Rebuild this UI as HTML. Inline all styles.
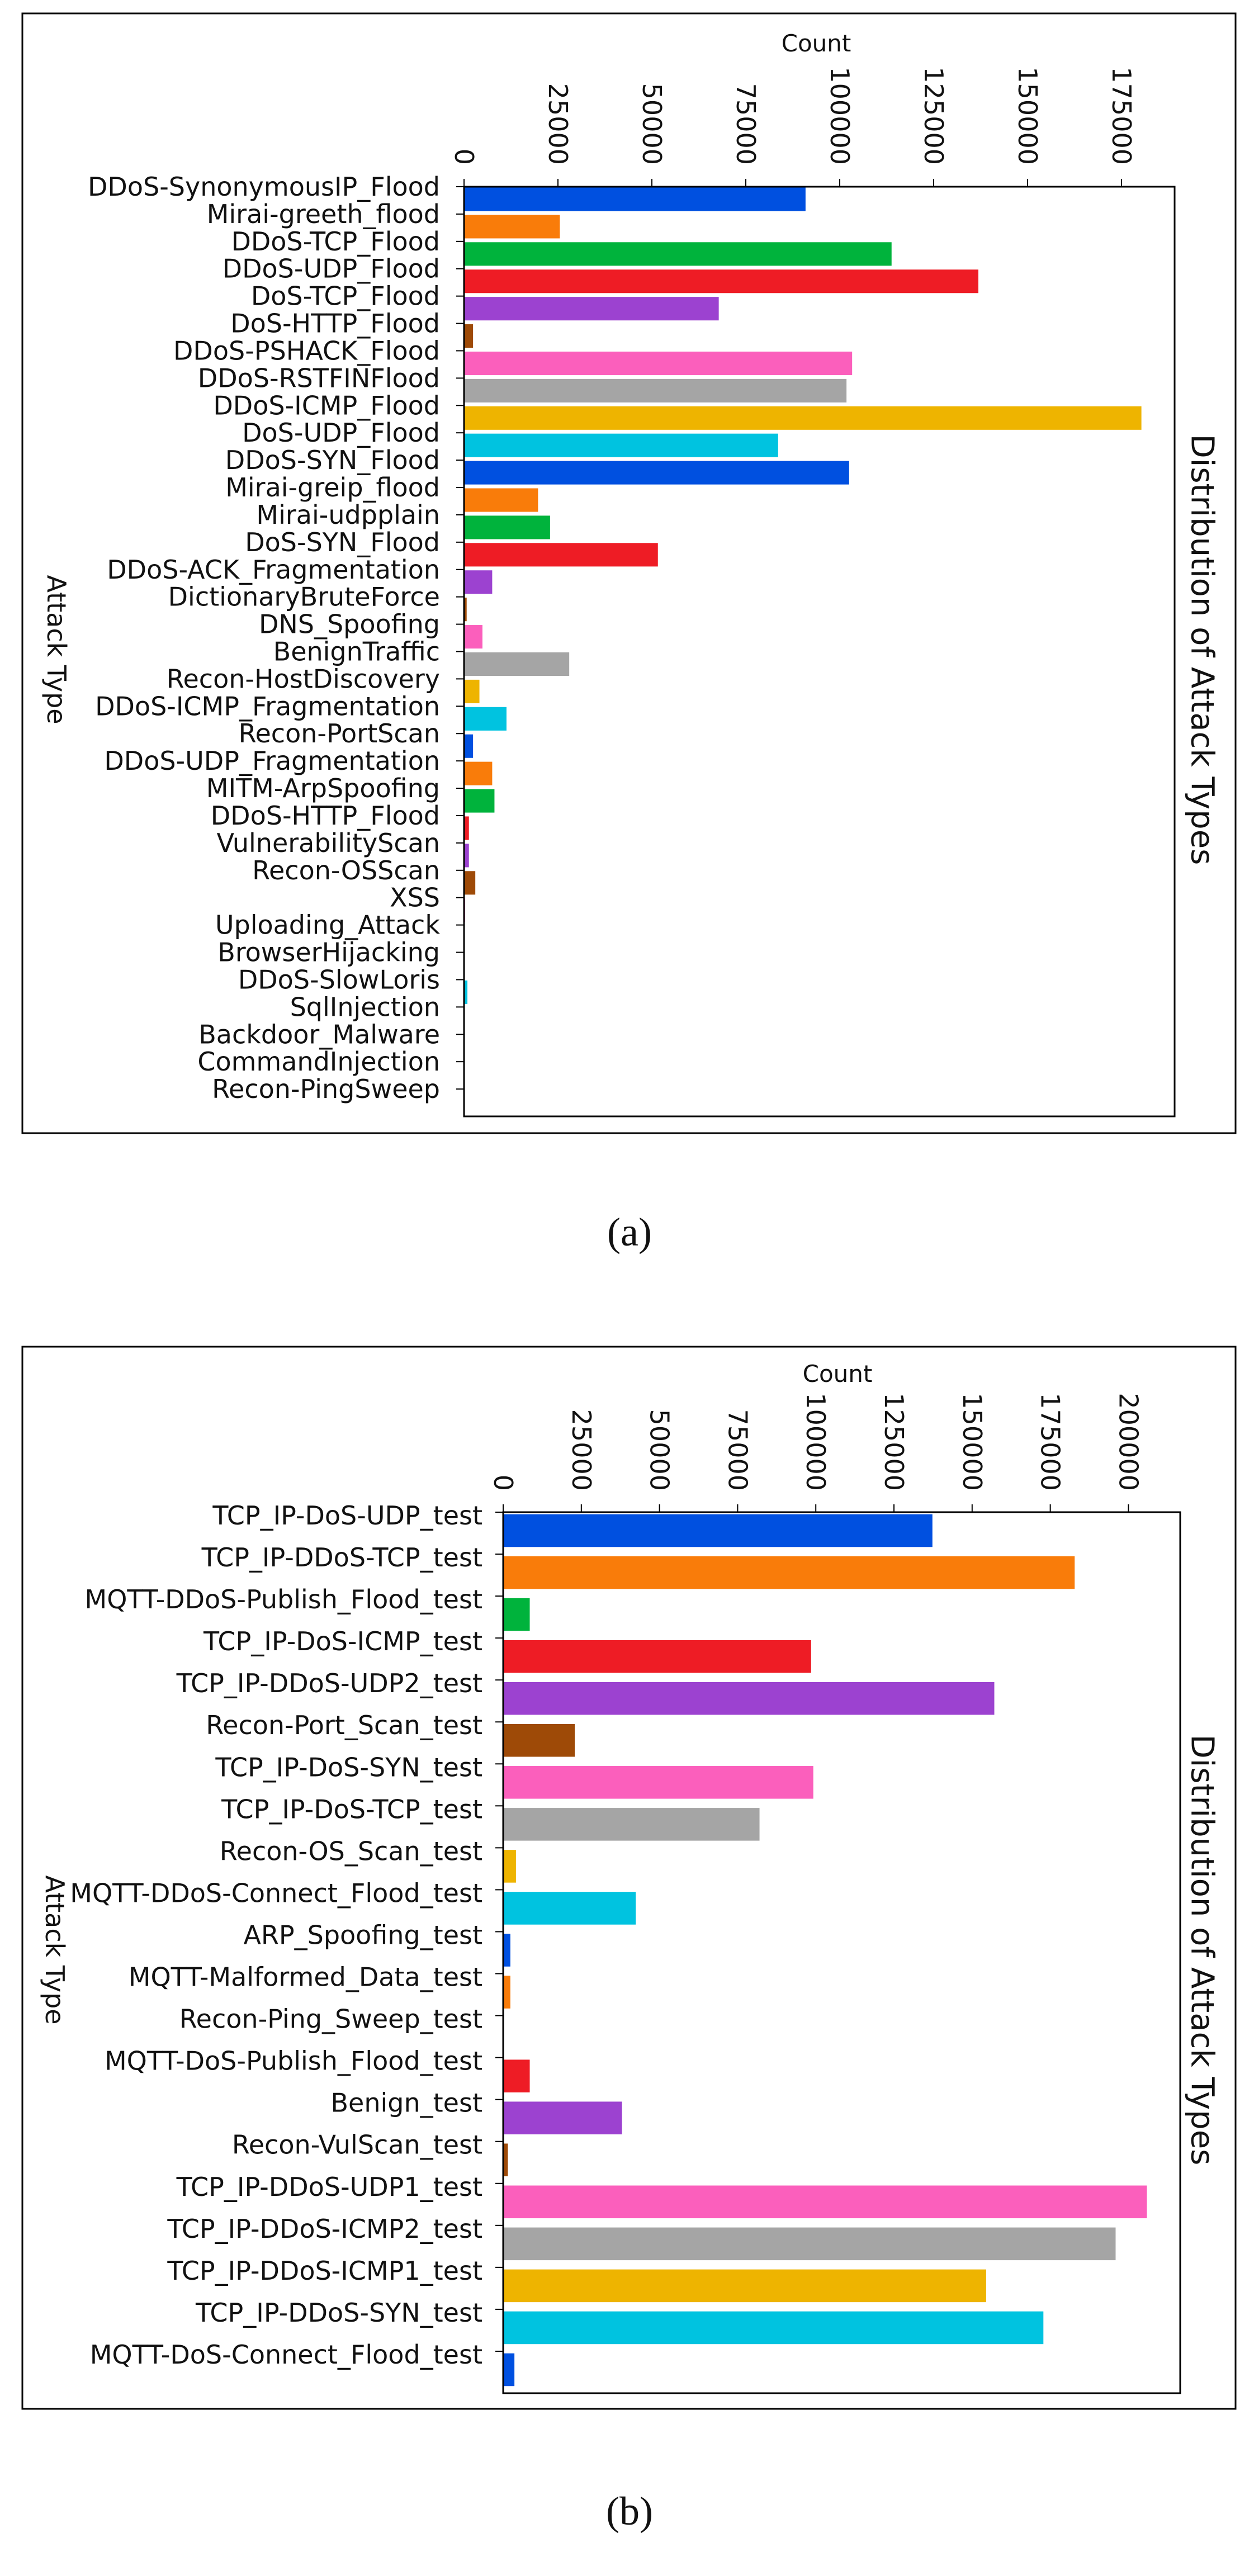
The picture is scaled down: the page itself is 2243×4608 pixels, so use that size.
<!DOCTYPE html>
<html><head><meta charset="utf-8"><style>
html,body{margin:0;padding:0;background:#fff}
svg{display:block}
text{font-family:"DejaVu Sans","Liberation Sans",sans-serif;fill:#111}
</style></head><body>
<svg id="fig" width="2243" height="4608" viewBox="0 0 2243 4608" xmlns="http://www.w3.org/2000/svg">
<rect x="0" y="0" width="2243" height="4608" fill="#fff"/>
<text x="1126" y="2228" text-anchor="middle" style="font-family:'Liberation Serif',serif;font-size:72px">(a)</text>
<text x="1126" y="4516" text-anchor="middle" style="font-family:'Liberation Serif',serif;font-size:72px">(b)</text>
</svg>
<script>
const catsA = ["DDoS-SynonymousIP_Flood","Mirai-greeth_flood","DDoS-TCP_Flood","DDoS-UDP_Flood","DoS-TCP_Flood","DoS-HTTP_Flood","DDoS-PSHACK_Flood","DDoS-RSTFINFlood","DDoS-ICMP_Flood","DoS-UDP_Flood","DDoS-SYN_Flood","Mirai-greip_flood","Mirai-udpplain","DoS-SYN_Flood","DDoS-ACK_Fragmentation","DictionaryBruteForce","DNS_Spoofing","BenignTraffic","Recon-HostDiscovery","DDoS-ICMP_Fragmentation","Recon-PortScan","DDoS-UDP_Fragmentation","MITM-ArpSpoofing","DDoS-HTTP_Flood","VulnerabilityScan","Recon-OSScan","XSS","Uploading_Attack","BrowserHijacking","DDoS-SlowLoris","SqlInjection","Backdoor_Malware","CommandInjection","Recon-PingSweep"];
const valsA = [90900,25500,113800,136900,67800,2400,103300,101800,180300,83600,102500,19700,22900,51600,7500,700,4900,28000,4100,11300,2400,7500,8100,1300,1300,3000,300,100,200,900,100,100,50,30];
const ticksA = [0,25000,50000,75000,100000,125000,150000,175000];
const catsB = ["TCP_IP-DoS-UDP_test","TCP_IP-DDoS-TCP_test","MQTT-DDoS-Publish_Flood_test","TCP_IP-DoS-ICMP_test","TCP_IP-DDoS-UDP2_test","Recon-Port_Scan_test","TCP_IP-DoS-SYN_test","TCP_IP-DoS-TCP_test","Recon-OS_Scan_test","MQTT-DDoS-Connect_Flood_test","ARP_Spoofing_test","MQTT-Malformed_Data_test","Recon-Ping_Sweep_test","MQTT-DoS-Publish_Flood_test","Benign_test","Recon-VulScan_test","TCP_IP-DDoS-UDP1_test","TCP_IP-DDoS-ICMP2_test","TCP_IP-DDoS-ICMP1_test","TCP_IP-DDoS-SYN_test","MQTT-DoS-Connect_Flood_test"];
const valsB = [137300,182800,8500,98500,157100,22900,99200,82000,4100,42400,2300,2300,100,8500,38000,1500,205900,195900,154500,172800,3600];
const ticksB = [0,25000,50000,75000,100000,125000,150000,175000,200000];
const palette = ["#0050e0","#f97c0a","#00b33c","#ee1c25","#9c42d0","#9e4a07","#fb5fbc","#a5a5a5","#eeb400","#00c3e0"];

const NS="http://www.w3.org/2000/svg";
const svg=document.getElementById('fig');
function mk(tag,attrs,parent){const e=document.createElementNS(NS,tag);for(const k in attrs)e.setAttribute(k,attrs[k]);(parent||svg).appendChild(e);return e;}

function chart(cfg){
  const g=mk('g',{});
  
  
  const frame=mk('rect',{x:cfg.box[0],y:cfg.box[1],width:cfg.box[2]-cfg.box[0],height:cfg.box[3]-cfg.box[1],fill:'none',stroke:'#000','stroke-width':3},g);
  
  
  const [L,T,R,B]=cfg.plot;
  const xs=v=>L+(v/cfg.unit)*cfg.pxPerUnit;
  const n=cfg.cats.length, band=(B-T)/n;
  cfg.cats.forEach((c,i)=>{
    const y0=T+i*band;
    const r=mk('rect',{x:L,y:y0+band*cfg.barOff,width:Math.max(0,xs(cfg.vals[i])-L),height:band*cfg.barH,fill:palette[i%10]},g);
    
    
    mk('line',{x1:L-14,x2:L,y1:y0,y2:y0,stroke:'#000','stroke-width':2},g);
    const t=mk('text',{x:cfg.labelX,y:y0+cfg.labelDy,'text-anchor':'end','font-size':cfg.labelFs},g);
    t.textContent=c;
    
    
  });
  cfg.ticks.forEach(v=>{
    const x=xs(v);
    mk('line',{x1:x,x2:x,y1:T-14,y2:T,stroke:'#000','stroke-width':2},g);
    const t=mk('text',{x:0,y:0,'text-anchor':'end','dominant-baseline':'central','font-size':46,transform:`translate(${x},${cfg.tickEnd}) rotate(90)`},g);
    t.textContent=String(v);
    
    
  });
  const ax=mk('rect',{x:L,y:T,width:R-L,height:B-T,fill:'none',stroke:'#000','stroke-width':3},g);
  
  
  const ct=mk('text',{x:cfg.countX,y:cfg.countY,'text-anchor':'middle','font-size':42},g);
  ct.textContent='Count';
  
  
  const yt=mk('text',{x:0,y:0,'text-anchor':'middle','dominant-baseline':'central','font-size':46,transform:`translate(${cfg.ytX},${cfg.ytY}) rotate(90)`},g);
  yt.textContent='Attack Type';
  
  
  const tt=mk('text',{x:0,y:0,'text-anchor':'middle','dominant-baseline':'central','font-size':56,transform:`translate(${cfg.ttX},${cfg.ytY}) rotate(90)`},g);
  tt.textContent='Distribution of Attack Types';
  
  
}

chart({name:'chart-a',cats:catsA,vals:valsA,ticks:ticksA,box:[40,24,2210,2027],plot:[830,334,2101,1997],
  unit:25000,pxPerUnit:168,barOff:0.03,barH:0.86,labelX:787,labelDy:16,labelFs:46,tickEnd:295,
  countX:1460,countY:92,ytX:101,ytY:1162,ttX:2150});
chart({name:'chart-b',cats:catsB,vals:valsB,ticks:ticksB,box:[40,2409,2210,4309],plot:[900,2705,2111,4281],
  unit:25000,pxPerUnit:139.8,barOff:0.05,barH:0.78,labelX:863,labelDy:22,labelFs:46,tickEnd:2667,
  countX:1498,countY:2472,ytX:98,ytY:3488,ttX:2150});
</script>
</body></html>
